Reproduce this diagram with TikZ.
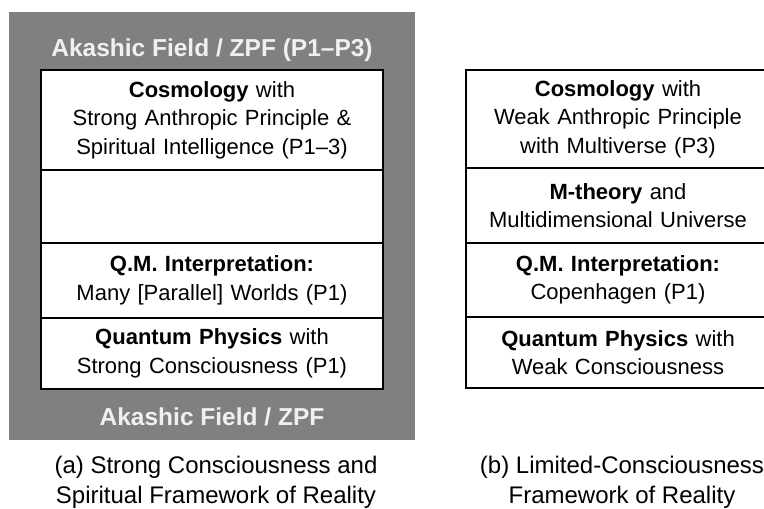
\documentclass[tikz,border=0pt]{standalone}
\usepackage{fontspec}
\setmainfont{Liberation Sans}
\usepackage{tikz}
\usetikzlibrary{positioning}
\definecolor{fieldgray}{RGB}{128,128,128}
\definecolor{fieldtext}{RGB}{240,240,240}
\tikzset{
  % Layer boxes
  layer/.style={rectangle, draw=black, line width=1.4pt, fill=white, minimum width=#1, text width=#1, align=center, inner sep=0pt, outer sep=0pt, font=\fontsize{22}{28.5}\selectfont},
  layer/.default={342pt},
  fieldlabel/.style={font=\fontsize{24.5}{28}\selectfont\bfseries, text=fieldtext, inner sep=0pt},
  caption/.style={font=\fontsize{24}{30}\selectfont, align=center, inner sep=0pt},
}
\begin{document}
\begin{tikzpicture}[x=1pt, y=-1pt]
    \useasboundingbox (0,0) rectangle (764,509);
    \clip (0,0) rectangle (764,509);

    % Akashic field background
    \fill[fieldgray] (9,12) rectangle (415,440);
    \node[fieldlabel] (ftop) at (212,50) {Akashic Field / ZPF (P1--P3)};
    \node[fieldlabel] (fbot) at (212,417) {Akashic Field / ZPF};

    % Left stack (a)
    \node[layer, minimum height=100pt, anchor=north west] (lcosmo) at (41,70) {\textbf{Cosmology} with\\Strong Anthropic Principle \&\\Spiritual Intelligence (P1--3)};
    \node[layer, minimum height=73pt, below=0pt of lcosmo] (lempty) {};
    \node[layer, minimum height=75pt, below=0pt of lempty] (lqm) {\textbf{Q.M. Interpretation:}\\Many [Parallel] Worlds (P1)};
    \node[layer, minimum height=71pt, below=0pt of lqm] (lqp) {\textbf{Quantum Physics} with\\Strong Consciousness (P1)};

    % Right stack (b)
    \node[layer=304pt, minimum height=98pt, anchor=north west] (rcosmo) at (466,70) {\textbf{Cosmology} with\\Weak Anthropic Principle\\with Multiverse (P3)};
    \node[layer=304pt, minimum height=75pt, below=0pt of rcosmo] (rmtheory) {\textbf{M-theory} and\\Multidimensional Universe};
    \node[layer=304pt, minimum height=74pt, below=0pt of rmtheory] (rqm) {\textbf{Q.M. Interpretation:}\\Copenhagen (P1)};
    \node[layer=304pt, minimum height=71pt, below=0pt of rqm] (rqp) {\textbf{Quantum Physics} with\\Weak Consciousness};

    % Captions
    \node[caption] (capa) at (216,482) {(a) Strong Consciousness and\\Spiritual Framework of Reality};
    \node[caption] (capb) at (622,482) {(b) Limited-Consciousness\\Framework of Reality};
  \end{tikzpicture}
\end{document}
